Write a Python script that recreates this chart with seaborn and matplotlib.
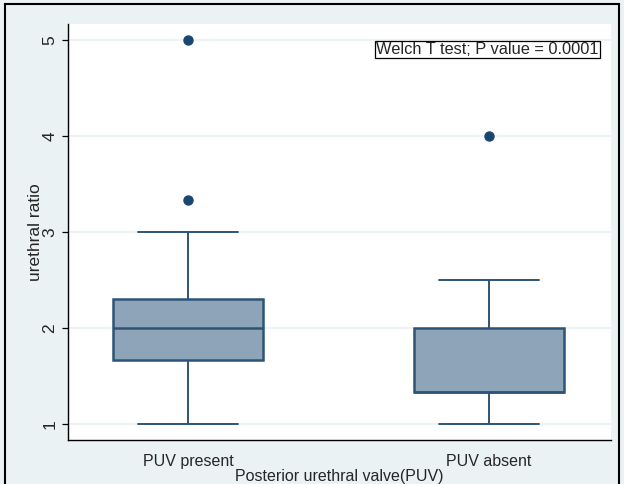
import numpy as np
import pandas as pd
import matplotlib
matplotlib.use("Agg")
import matplotlib.pyplot as plt
import matplotlib.patches as mpatches
import seaborn as sns

# ---- data (hand-read values reproducing the box statistics) ----
groups = ["PUV present", "PUV absent"]
puv_present = [1.0, 1.2, 1.5, 1.67, 1.67, 1.75, 2.0, 2.0, 2.0, 2.0, 2.25, 2.3, 2.3, 2.5, 3.0, 3.33, 5.0]
puv_absent = [1.0, 1.0, 1.33, 1.33, 1.33, 1.33, 1.33, 1.5, 2.0, 2.0, 2.0, 2.5, 4.0]
y_ticks = [1, 2, 3, 4, 5]
annotation = "Welch T test; P value = 0.0001"
x_title = "Posterior urethral valve(PUV)"
y_title = "urethral ratio"

df = pd.DataFrame({
    "group": [groups[0]] * len(puv_present) + [groups[1]] * len(puv_absent),
    "ratio": puv_present + puv_absent,
})

sns.set_style("white")
plt.rcParams["font.family"] = ["Liberation Sans", "DejaVu Sans"]

bg = "#eaf2f3"
navy = "#1a476f"
edge = "#2d5477"
fill = "#8ea5b9"

fig = plt.figure(figsize=(6.24, 4.84), dpi=100, facecolor=bg)
ax = fig.add_axes([68 / 624, 44 / 484, (611 - 68) / 624, (440 - 24) / 484])
ax.set_facecolor("white")

sns.boxplot(
    data=df, x="group", y="ratio", order=groups, ax=ax,
    color=fill, width=0.5, linewidth=1.6,
    boxprops=dict(facecolor=fill, edgecolor=edge, linewidth=1.8),
    medianprops=dict(color=edge, linewidth=1.8),
    whiskerprops=dict(color=edge, linewidth=1.4),
    capprops=dict(color=edge, linewidth=1.4),
    flierprops=dict(marker="o", markerfacecolor=navy, markeredgecolor=navy,
                    markersize=6.5),
    capwidths=0.33,
)

ax.set_xlim(-0.399, 1.405)
ax.set_ylim(0.833, 5.167)
ax.set_yticks(y_ticks)
ax.set_yticklabels([str(t) for t in y_ticks], rotation=90, va="center", fontsize=12.5)
ax.tick_params(axis="y", length=4.5, width=0.9, color="black", pad=3, left=True)
ax.tick_params(axis="x", length=0, pad=10)
for lab in ax.get_xticklabels():
    lab.set_fontsize(11.5)
ax.yaxis.grid(True, color=bg, linewidth=1.2)
ax.set_axisbelow(True)

for s in ["top", "right"]:
    ax.spines[s].set_visible(False)
for s in ["left", "bottom"]:
    ax.spines[s].set_color("black")
    ax.spines[s].set_linewidth(1.0)

ax.set_xlabel(x_title, fontsize=11.5, labelpad=0)
ax.set_ylabel(y_title, fontsize=12.5, labelpad=0)

ax.text((376 - 68) / 543, (440 - 49.5) / 416, annotation, transform=ax.transAxes,
        ha="left", va="center", fontsize=11.8,
        bbox=dict(boxstyle="square,pad=0.08", facecolor="white",
                  edgecolor="black", linewidth=0.9))

# outer frame
fig.patches.append(mpatches.Rectangle((4.5 / 624, -0.05), (619 - 4.5) / 624, 1.05 - 4.5 / 484,
                                      transform=fig.transFigure, fill=False,
                                      edgecolor="black", linewidth=1.5, clip_on=False))

fig.savefig("out.png", dpi=100, facecolor=bg)
